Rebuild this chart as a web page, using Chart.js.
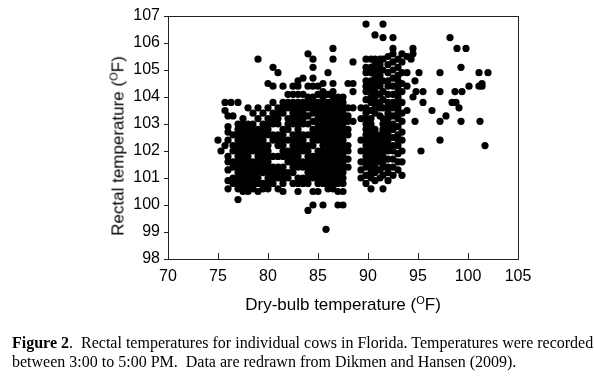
<!DOCTYPE html>
<html>
<head>
<meta charset="utf-8">
<script src="https://cdn.jsdelivr.net/npm/chart.js@4/dist/chart.umd.min.js"></script>
<style>
  body { margin: 0; background: #fff; }
  #wrap { position: relative; width: 595px; height: 379px; overflow: hidden; }
  #myChart { position: absolute; left: 0; top: 0; }
  .axis-title { position: absolute; font-family: 'Liberation Sans', Arial, sans-serif; font-size: 17px; line-height: 17px; color: #000; white-space: nowrap; }
  .axis-title sup { font-size: 11px; vertical-align: 6px; line-height: 0; }
  #xTitle { left: 143px; width: 400px; top: 296px; text-align: center; }
  #yTitle { left: 118px; top: 146px; transform: translate(-50%, -50%) rotate(-90deg); }
  #caption { position: absolute; left: 12px; top: 333px; width: 595px; font-family: 'Liberation Serif', 'Times New Roman', serif; font-size: 16px; line-height: 19px; color: #000; white-space: nowrap; }
</style>
</head>
<body>
<div id="wrap">
  <canvas id="myChart" width="595" height="379"></canvas>
  <div class="axis-title" id="xTitle">Dry-bulb temperature (<sup>O</sup>F)</div>
  <div class="axis-title" id="yTitle">Rectal temperature (<sup>O</sup>F)</div>
  <div id="caption"><b>Figure 2</b>.&nbsp; Rectal temperatures for individual cows in Florida. Temperatures were recorded<br>between 3:00 to 5:00 PM.&nbsp; Data are redrawn from Dikmen and Hansen (2009).</div>
</div>
<script>
// dry-bulb temperature of each column of readings (F)
let dryBulb = [
  75.0, 75.3, 75.7, 76.0, 76.3, 76.5, 77.0, 77.5, 78.0, 78.5, 79.0, 79.5,
  80.0, 80.5, 81.0, 81.5, 82.0, 82.5, 83.0, 83.5, 84.0, 84.5, 85.0, 85.5, 85.8,
  86.0, 86.5, 87.0, 87.5, 88.0, 88.5,
  89.3, 89.8, 90.3, 90.7, 91.2, 91.5, 92.0, 92.5, 93.0, 93.4, 93.9,
  94.3, 94.5, 94.7, 94.8, 95.1, 95.3, 95.5, 96.4, 97.2, 97.8, 98.2, 98.4,
  98.7, 98.8, 98.9, 99.1, 99.3, 99.4, 99.8, 100.1, 101.1, 101.2, 101.4, 101.7, 102.0
];

// rectal temperatures recorded at each dry-bulb temperature (F)
let rectal = [
  [102.4],
  [102.0],
  [103.8, 103.5, 102.2],
  [103.3, 102.9, 102.7, 102.4, 101.8, 101.6, 101.3, 100.9, 100.6],
  [103.8],
  [103.3, 102.6, 102.2, 102.0, 101.6, 101.4, 101.0, 100.8],
  [103.8, 103.0, 102.8, 102.6, 102.4, 102.2, 102.0, 101.8, 101.6, 101.4, 101.2, 101.0, 100.8, 100.6, 100.2],
  [103.2, 103.0, 102.8, 102.6, 102.4, 102.2, 102.0, 101.8, 101.6, 101.4, 101.2, 101.0, 100.8, 100.6, 100.5],
  [103.6, 103.0, 102.8, 102.6, 102.4, 102.2, 102.0, 101.8, 101.6, 101.4, 101.2, 101.0, 100.8, 100.6, 100.5],
  [103.4, 103.0, 102.8, 102.6, 102.4, 102.2, 102.0, 101.6, 101.4, 101.2, 101.0, 100.8, 100.6],
  [105.4, 103.6, 103.2, 102.8, 102.6, 102.4, 102.2, 102.0, 101.8, 101.6, 101.4, 101.2, 101.0, 100.8, 100.5],
  [103.4, 103.0, 102.8, 102.6, 102.4, 102.2, 102.0, 101.8, 101.6, 101.4, 101.2, 100.8, 100.6],
  [104.5, 103.6, 103.2, 103.0, 102.8, 102.6, 102.2, 102.0, 101.8, 101.6, 101.4, 101.2, 101.0, 100.8, 100.6],
  [105.1, 104.4, 103.8, 103.4, 103.2, 103.0, 102.6, 102.4, 101.8, 101.4, 101.2, 101.0, 100.8],
  [104.9, 103.6, 103.4, 103.2, 103.0, 102.6, 102.4, 102.2, 101.8, 101.4, 101.2, 101.0, 100.6],
  [104.4, 103.8, 103.6, 103.4, 102.8, 102.6, 102.4, 102.2, 102.0, 101.8, 101.4, 101.2, 101.0, 100.8, 100.5],
  [104.1, 103.8, 103.6, 103.2, 103.0, 102.8, 102.4, 102.0, 101.8, 101.6, 101.2, 101.0],
  [104.4, 104.1, 103.8, 103.6, 103.4, 103.2, 103.0, 102.6, 102.4, 102.2, 102.0, 101.8, 101.6, 101.4, 101.2, 100.8],
  [104.6, 104.4, 104.1, 103.8, 103.6, 103.4, 103.2, 103.0, 102.8, 102.6, 102.4, 102.2, 102.0, 101.8, 101.6, 101.4, 101.0, 100.8, 100.5],
  [104.7, 104.1, 103.8, 103.6, 103.4, 103.2, 103.0, 102.6, 102.4, 102.2, 102.0, 101.6, 101.4, 101.0, 100.8],
  [105.6, 104.4, 104.0, 103.8, 103.6, 103.3, 103.0, 102.6, 102.2, 102.0, 101.8, 101.6, 101.4, 101.2, 101.0, 100.8, 99.8],
  [105.4, 105.1, 104.7, 104.4, 104.0, 103.8, 103.6, 103.4, 103.1, 102.8, 102.6, 102.4, 102.2, 101.8, 101.6, 101.4, 101.2, 101.0, 100.5, 100.0],
  [104.4, 104.1, 103.8, 103.6, 103.4, 103.2, 103.0, 102.8, 102.6, 102.4, 102.0, 101.8, 101.6, 101.4, 101.2, 101.0, 100.8, 100.5],
  [104.5, 104.2, 104.0, 103.8, 103.6, 103.4, 103.2, 103.0, 102.8, 102.6, 102.4, 102.2, 102.0, 101.8, 101.6, 101.4, 101.2, 101.0, 100.8, 100.0],
  [99.1],
  [104.9, 104.1, 103.8, 103.6, 103.4, 103.2, 103.0, 102.8, 102.6, 102.4, 102.2, 102.0, 101.8, 101.6, 101.4, 101.2, 101.0, 100.8, 100.6],
  [105.8, 105.4, 104.5, 104.2, 104.0, 103.8, 103.6, 103.4, 103.2, 103.0, 102.8, 102.6, 102.4, 102.2, 102.0, 101.8, 101.6, 101.4, 101.2, 101.0, 100.8, 100.6],
  [104.0, 103.8, 103.6, 103.4, 103.2, 103.0, 102.8, 102.6, 102.4, 102.2, 102.0, 101.8, 101.6, 101.4, 101.2, 101.0, 100.8, 100.5, 100.0],
  [104.0, 103.8, 103.6, 103.4, 103.2, 103.0, 102.8, 102.6, 102.4, 102.2, 102.0, 101.8, 101.6, 101.4, 101.2, 101.0, 100.8, 100.5, 100.0],
  [104.5, 103.6, 103.3, 103.1, 102.8, 102.6, 102.2, 102.0, 101.7, 101.4],
  [105.3, 104.5, 104.2, 103.6, 103.1],
  [103.6, 103.2, 102.4, 102.0, 101.6, 101.3, 101.0],
  [106.7, 105.4, 105.1, 104.9, 104.6, 104.4, 104.2, 103.9, 103.6, 103.4, 103.2, 103.0, 102.8, 102.6, 102.4, 102.2, 102.0, 101.8, 101.6, 101.4, 101.1, 100.8],
  [105.4, 105.1, 104.9, 104.6, 104.4, 104.2, 104.0, 103.8, 103.5, 103.2, 103.0, 102.8, 102.6, 102.4, 102.2, 102.0, 101.8, 101.6, 101.4, 101.2, 101.0, 100.6],
  [106.3, 105.4, 105.2, 105.0, 104.8, 104.6, 104.4, 104.2, 104.0, 103.8, 103.6, 103.4, 102.8, 102.6, 102.4, 102.2, 102.0, 101.8, 101.6, 101.4, 101.2, 100.9],
  [105.4, 105.2, 105.0, 104.8, 104.6, 104.4, 104.1, 103.8, 103.6, 103.3, 102.6, 102.4, 102.2, 102.0, 101.8, 101.6, 101.3, 101.0],
  [106.7, 106.2, 105.4, 105.0, 104.6, 104.2, 103.9, 103.6, 103.2, 103.0, 102.8, 102.6, 102.4, 102.2, 102.0, 101.8, 101.6, 101.4, 101.1, 100.6],
  [105.5, 105.2, 104.9, 104.6, 104.4, 104.1, 103.8, 103.6, 103.4, 103.2, 103.0, 102.8, 102.6, 102.4, 102.2, 102.0, 101.7, 101.4, 101.2, 100.9],
  [106.2, 105.8, 105.6, 105.3, 105.0, 104.7, 104.4, 104.1, 103.8, 103.6, 103.3, 103.0, 102.8, 102.5, 102.2, 102.0, 101.7, 101.4, 101.1],
  [105.4, 105.1, 104.8, 104.6, 104.4, 104.2, 104.0, 103.8, 103.6, 103.4, 103.2, 102.9, 102.6, 102.4, 102.2, 101.9, 101.6, 101.3],
  [105.6, 105.3, 104.9, 104.5, 104.2, 103.8, 103.4, 103.1, 102.7, 102.4, 102.0, 101.6, 101.1],
  [105.5, 104.9, 104.4, 103.5],
  [105.4],
  [105.8, 105.6, 104.0],
  [104.6, 103.1],
  [104.2],
  [104.9],
  [102.0],
  [104.2, 103.8],
  [103.5],
  [104.9, 104.2, 103.1, 102.4],
  [103.3],
  [106.2],
  [103.8],
  [104.2],
  [103.8],
  [105.8],
  [103.6],
  [105.1, 103.1],
  [104.2],
  [105.8],
  [104.4],
  [104.9, 104.4],
  [103.1],
  [104.5, 104.4],
  [102.2],
  [104.9]
];

let xTicks = [70, 75, 80, 85, 90, 95, 100, 105];
let yTicks = [98, 99, 100, 101, 102, 103, 104, 105, 106, 107];

let points = [];
dryBulb.forEach((x, i) => rectal[i].forEach(y => points.push({ x: x, y: y })));

// box around the plot and x ticks pointing inward
let frame = {
  id: 'frame',
  afterDraw(chart) {
    let ctx = chart.ctx;
    let a = chart.chartArea;
    let xs = chart.scales.x;
    ctx.save();
    ctx.strokeStyle = '#222';
    ctx.lineWidth = 1;
    ctx.strokeRect(Math.round(a.left) + 0.5, Math.round(a.top) + 0.5, Math.round(a.width), Math.round(a.height));
    ctx.beginPath();
    xTicks.forEach(v => {
      let px = Math.round(xs.getPixelForValue(v)) + 0.5;
      ctx.moveTo(px, a.bottom);
      ctx.lineTo(px, a.bottom - 6);
    });
    ctx.stroke();
    ctx.restore();
  }
};

let tickFont = { family: "'Liberation Sans', Arial, sans-serif", size: 16 };

let myChart = new Chart(document.getElementById('myChart'), {
  type: 'scatter',
  data: {
    datasets: [{
      data: points,
      backgroundColor: '#000',
      borderWidth: 0,
      pointRadius: 3.6,
      pointHoverRadius: 3.6
    }]
  },
  options: {
    responsive: false,
    animation: false,
    events: [],
    layout: { autoPadding: false, padding: { left: 0, top: 16, right: 77, bottom: 0 } },
    plugins: { legend: { display: false }, tooltip: { enabled: false } },
    scales: {
      x: {
        type: 'linear',
        min: 70,
        max: 105,
        afterFit: s => { s.height = 120; },
        afterBuildTicks: s => { s.ticks = xTicks.map(v => ({ value: v })); },
        grid: { display: false, drawTicks: false },
        border: { display: false },
        ticks: { color: '#000', font: tickFont, padding: 8, maxRotation: 0 }
      },
      y: {
        type: 'linear',
        min: 98,
        max: 107,
        afterFit: s => { s.width = 168; },
        afterBuildTicks: s => { s.ticks = yTicks.map(v => ({ value: v })); },
        grid: { drawOnChartArea: false, tickLength: 4, color: '#222' },
        border: { display: false },
        ticks: { color: '#000', font: tickFont, padding: 4 }
      }
    }
  },
  plugins: [frame]
});
</script>
</body>
</html>
